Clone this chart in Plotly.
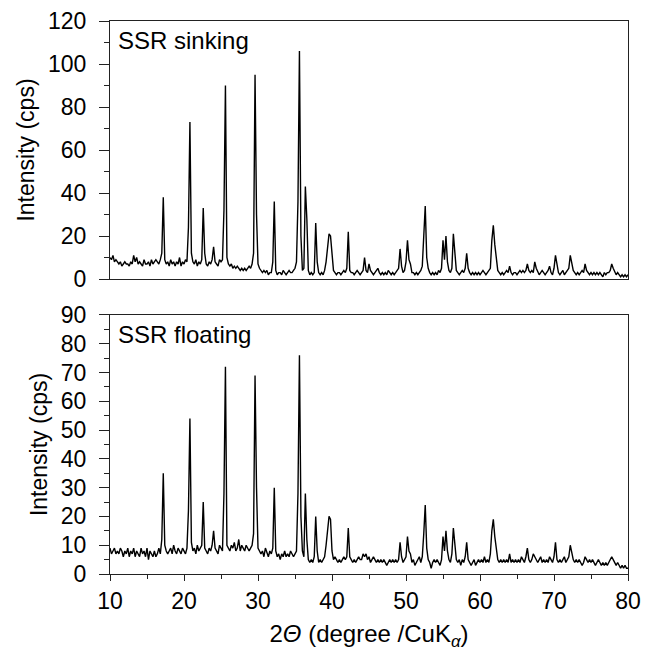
import numpy as np
import plotly.graph_objects as go
from plotly.subplots import make_subplots

# 2-theta sampling grid (degrees), 0.2 deg steps from 10 to 80
two_theta = np.round(np.arange(10.0, 80.0001, 0.2), 1)

# SSR sinking intensities (cps), one row per degree (.0 .2 .4 .6 .8)
intensity_sinking = [
    10, 9, 11, 8, 9,
    8, 7, 8, 6, 7,
    8, 7, 7, 6, 8,
    7, 11, 8, 10, 7,
    8, 7, 6, 9, 7,
    7, 8, 6, 9, 7,
    8, 9, 8, 7, 9,
    12, 38, 9, 7, 8,
    6, 9, 7, 8, 6,
    8, 7, 10, 6, 8,
    7, 9, 8, 24, 73,
    12, 8, 7, 9, 6,
    8, 7, 9, 33, 12,
    7, 6, 8, 7, 9,
    15, 8, 7, 6, 9,
    8, 9, 32, 90, 10,
    7, 6, 7, 5, 6,
    5, 6, 5, 4, 5,
    4, 5, 4, 5, 6,
    5, 7, 12, 95, 30,
    7, 5, 4, 3, 4,
    3, 4, 2, 3, 3,
    8, 36, 4, 2, 3,
    3, 2, 4, 3, 2,
    3, 4, 3, 3, 4,
    5, 8, 36, 106, 20,
    4, 5, 43, 28, 4,
    2, 3, 2, 3, 26,
    8, 3, 2, 3, 2,
    4, 8, 15, 21, 20,
    10, 4, 3, 2, 3,
    3, 2, 3, 4, 3,
    5, 22, 4, 3, 3,
    2, 3, 4, 3, 2,
    3, 4, 10, 4, 3,
    7, 4, 3, 2, 3,
    4, 5, 3, 2, 3,
    2, 3, 2, 4, 3,
    2, 3, 2, 3, 4,
    5, 14, 6, 3, 4,
    8, 18, 9, 7, 3,
    3, 2, 3, 2, 3,
    4, 6, 20, 34, 10,
    5, 3, 2, 3, 2,
    3, 2, 4, 3, 5,
    18, 9, 20, 8, 4,
    3, 5, 21, 12, 4,
    3, 2, 3, 4, 3,
    5, 12, 5, 3, 2,
    3, 2, 3, 2, 3,
    2, 3, 4, 3, 2,
    3, 4, 5, 18, 25,
    16, 9, 4, 3, 2,
    3, 2, 3, 4, 3,
    6, 3, 2, 3, 3,
    2, 3, 4, 3, 4,
    3, 4, 7, 4, 3,
    4, 3, 8, 5, 3,
    2, 3, 4, 3, 2,
    3, 4, 6, 3, 2,
    5, 11, 6, 3, 2,
    3, 4, 2, 3, 4,
    5, 11, 7, 4, 3,
    2, 3, 2, 3, 4,
    3, 7, 4, 3, 2,
    3, 2, 3, 2, 3,
    2, 3, 2, 1, 3,
    2, 3, 3, 4, 7,
    5, 3, 2, 3, 2,
    1, 2, 1, 2, 1,
    2,
]

# SSR floating intensities (cps)
intensity_floating = [
    9, 7, 8, 9, 7,
    8, 7, 9, 8, 6,
    8, 7, 9, 6, 8,
    7, 9, 6, 8, 7,
    6, 9, 7, 8, 6,
    9, 5, 8, 7, 6,
    8, 6, 7, 9, 7,
    12, 35, 10, 8, 7,
    8, 9, 7, 10, 8,
    7, 9, 8, 7, 9,
    8, 7, 9, 22, 54,
    11, 8, 9, 7, 10,
    8, 9, 10, 25, 9,
    8, 7, 9, 8, 10,
    15, 9, 8, 7, 10,
    9, 8, 28, 72, 10,
    9, 8, 10, 9, 11,
    8, 9, 12, 8, 10,
    9, 8, 10, 9, 8,
    9, 10, 14, 69, 30,
    9, 8, 7, 8, 6,
    9, 7, 6, 8, 7,
    9, 30, 8, 6, 7,
    5, 7, 6, 8, 6,
    7, 6, 8, 7, 6,
    7, 8, 28, 76, 20,
    8, 6, 28, 12, 5,
    4, 5, 4, 6, 20,
    8, 4, 5, 4, 5,
    6, 10, 15, 20, 19,
    8, 5, 6, 5, 4,
    5, 4, 5, 6, 5,
    6, 16, 6, 5, 4,
    5, 4, 5, 6, 5,
    5, 7, 6, 7, 5,
    6, 4, 5, 6, 5,
    4, 5, 4, 5, 4,
    5, 4, 3, 4, 5,
    4, 5, 4, 5, 4,
    5, 11, 6, 4, 5,
    6, 13, 8, 7, 4,
    5, 3, 4, 5, 6,
    4, 6, 14, 24, 9,
    5, 4, 2, 4, 5,
    4, 5, 4, 3, 5,
    13, 8, 15, 8, 5,
    4, 7, 16, 10, 5,
    4, 5, 3, 5, 4,
    6, 11, 5, 4, 3,
    4, 5, 3, 4, 5,
    4, 5, 4, 6, 4,
    5, 4, 7, 15, 19,
    13, 9, 5, 4, 5,
    4, 5, 4, 5, 4,
    7, 4, 5, 4, 5,
    4, 5, 4, 6, 5,
    4, 6, 9, 5, 4,
    5, 7, 6, 5, 4,
    5, 6, 4, 5, 4,
    5, 4, 6, 5, 4,
    6, 11, 5, 4, 5,
    4, 5, 6, 4, 5,
    6, 10, 7, 5, 4,
    5, 4, 5, 4, 3,
    4, 6, 5, 4, 5,
    4, 5, 4, 3, 4,
    5, 4, 3, 4, 3,
    4, 3, 4, 5, 6,
    5, 4, 3, 4, 3,
    2, 3, 2, 3, 2,
    2,
]

panel_labels = ["SSR sinking", "SSR floating"]
x_ticks = [10, 20, 30, 40, 50, 60, 70, 80]
y_ticks_top = [0, 20, 40, 60, 80, 100, 120]
y_ticks_bottom = [0, 10, 20, 30, 40, 50, 60, 70, 80, 90]

FONT = "Liberation Sans, Arial, sans-serif"
TICK_SIZE = 23
TITLE_SIZE = 23

fig = make_subplots(rows=2, cols=1, shared_xaxes=False, vertical_spacing=0.065)
fig.add_trace(go.Scatter(x=two_theta, y=intensity_sinking, mode="lines",
                         line=dict(color="black", width=1.4), showlegend=False), row=1, col=1)
fig.add_trace(go.Scatter(x=two_theta, y=intensity_floating, mode="lines",
                         line=dict(color="black", width=1.4), showlegend=False), row=2, col=1)

axis_common = dict(showline=True, linecolor="#222", linewidth=1.3, mirror=True,
                   showgrid=False, zeroline=False, automargin=False,
                   tickfont=dict(family=FONT, size=TICK_SIZE, color="black"))

fig.update_layout(
    width=656, height=651,
    margin=dict(l=110, r=28, t=21, b=77),
    plot_bgcolor="white", paper_bgcolor="white",
    xaxis=dict(domain=[0, 1], range=[10, 80], showticklabels=False, ticks="",
               **axis_common),
    yaxis=dict(domain=[0.5334, 1], range=[0, 120], tickvals=y_ticks_top,
               ticks="outside", ticklen=10, tickwidth=1.2, tickcolor="#222",
               minor=dict(dtick=10, ticks="outside", ticklen=5, tickwidth=1, tickcolor="#222"),
               ticklabelstandoff=8,
               title=dict(text="Intensity (cps)", font=dict(family=FONT, size=TITLE_SIZE, color="black"),
                          standoff=6),
               **axis_common),
    xaxis2=dict(domain=[0, 1], range=[10, 80], tickvals=x_ticks,
                ticks="outside", ticklen=6, tickwidth=1.2, tickcolor="#222",
                minor=dict(dtick=5, ticks="outside", ticklen=4, tickwidth=1, tickcolor="#222"),
                ticklabelstandoff=0,
                title=dict(text="2<i>Θ</i> (degree /CuK<sub><i>α</i></sub>)",
                           font=dict(family=FONT, size=24, color="black"), standoff=14),
                **axis_common),
    yaxis2=dict(domain=[0, 0.4684], range=[0, 90], tickvals=y_ticks_bottom,
                ticks="outside", ticklen=10, tickwidth=1.2, tickcolor="#222",
                minor=dict(dtick=5, ticks="outside", ticklen=5, tickwidth=1, tickcolor="#222"),
                ticklabelstandoff=8,
                title=dict(text="Intensity (cps)", font=dict(family=FONT, size=TITLE_SIZE, color="black"),
                           standoff=6),
                **axis_common),
)

fig.add_annotation(text=panel_labels[0], xref="x domain", yref="y domain", x=0.012, y=0.985,
                   xanchor="left", yanchor="top", showarrow=False,
                   font=dict(family=FONT, size=24, color="black"))
fig.add_annotation(text=panel_labels[1], xref="x2 domain", yref="y2 domain", x=0.012, y=0.985,
                   xanchor="left", yanchor="top", showarrow=False,
                   font=dict(family=FONT, size=24, color="black"))

fig.write_html("out.html")
